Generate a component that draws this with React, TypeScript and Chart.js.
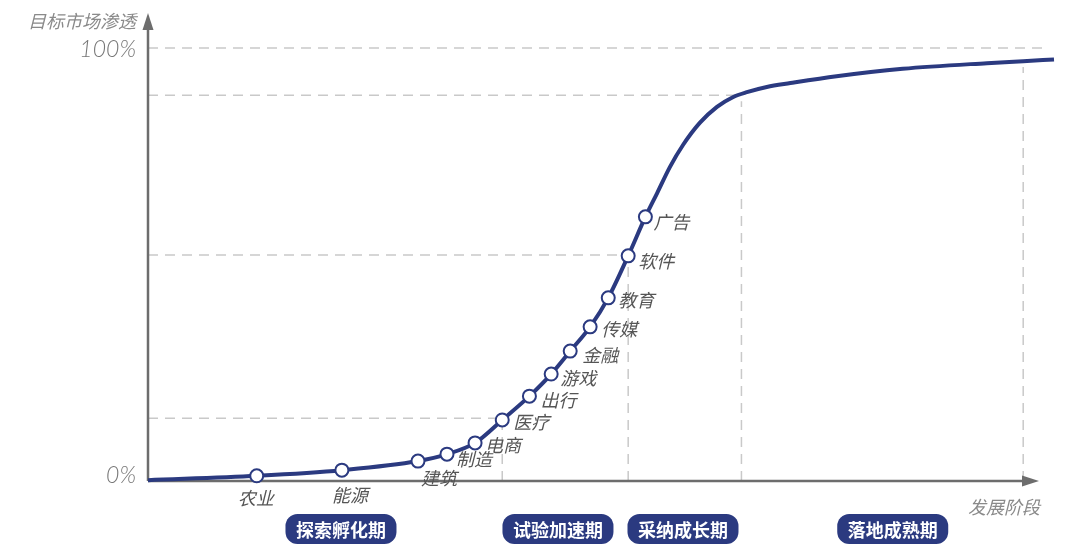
import React, { useEffect, useRef } from 'react';
import { Chart, registerables } from 'chart.js';

Chart.register(...registerables);

// industries sitting on the adoption curve
const industries = ['农业', '能源', '建筑', '制造', '电商', '医疗', '出行', '游戏', '金融', '传媒', '教育', '软件', '广告'];
const industryStage = [12.0, 21.4, 29.8, 33.0, 36.1, 39.1, 42.1, 44.5, 46.6, 48.8, 50.8, 53.0, 54.9];
const industryShare = [1.2, 2.5, 4.6, 6.2, 8.8, 14.1, 19.6, 24.7, 30.0, 35.6, 42.3, 52.0, 61.0];

// rest of the S-curve (no marker)
const curveStage = [0, 56.2, 57.6, 59.05, 60.9, 62.8, 64.6, 66.1, 68.3, 70.9, 76.0, 83.3, 92.6, 96.6, 100];
const curveShare = [0.2, 66.5, 72.5, 77.6, 82.7, 86.4, 88.7, 89.8, 91.0, 91.9, 93.5, 95.2, 96.5, 96.95, 97.35];

// dashed guides: [stage, share]
const guideStage = [39.1, 53.0, 65.5, 96.6];
const guideShare = [14.5, 52.2, 89.1, 97.0];
const topLineEnd = 99.2;

const yTicks = [0, 100];
const yTitle = '目标市场渗透';
const xTitle = '发展阶段';

const phases = ['探索孵化期', '试验加速期', '采纳成长期', '落地成熟期'];
const phaseCenter = [21.3, 45.25, 59.05, 82.2];

// label offsets in px (dx, dy, align)
const labelPlace: [number, number, CanvasTextAlign][] = [
  [-1, 22, 'center'],
  [8, 25, 'center'],
  [3, 17, 'left'],
  [9, 5, 'left'],
  [10, 2, 'left'],
  [11, 2, 'left'],
  [11, 4, 'left'],
  [9, 4, 'left'],
  [12, 4, 'left'],
  [11, 2, 'left'],
  [10, 2, 'left'],
  [10, 5, 'left'],
  [8, 5, 'left'],
];

const NAVY = '#2b3a80';
const AXIS = '#6d6d6d';
const CJK = "'Noto Sans CJK SC', 'Noto Sans', sans-serif";

const decor = {
  id: 'decor',
  beforeDatasetsDraw(chart: any) {
    const { ctx, scales } = chart;
    const x = scales.x;
    const y = scales.y;
    const x0 = x.getPixelForValue(0);
    const y0 = y.getPixelForValue(0);
    ctx.save();
    ctx.strokeStyle = '#c9c9c9';
    ctx.lineWidth = 1.5;
    ctx.setLineDash([10, 7]);
    guideStage.forEach((s, i) => {
      const px = x.getPixelForValue(s);
      const py = y.getPixelForValue(guideShare[i]);
      if (i < 3) {
        ctx.beginPath();
        ctx.moveTo(x0, py);
        ctx.lineTo(px, py);
        ctx.stroke();
      }
      ctx.beginPath();
      ctx.moveTo(px, y0);
      ctx.lineTo(px, py + 6);
      ctx.stroke();
    });
    const p100 = y.getPixelForValue(100);
    ctx.beginPath();
    ctx.moveTo(x0, p100);
    ctx.lineTo(x.getPixelForValue(topLineEnd), p100);
    ctx.stroke();
    ctx.setLineDash([]);

    // axes with arrows
    const right = x.getPixelForValue(100);
    const tipX = right - 15;
    const tipY = p100 - 35;
    ctx.strokeStyle = AXIS;
    ctx.fillStyle = AXIS;
    ctx.lineWidth = 2.5;
    ctx.beginPath();
    ctx.moveTo(x0, y0);
    ctx.lineTo(x0, tipY + 14);
    ctx.moveTo(x0, y0);
    ctx.lineTo(tipX - 14, y0);
    ctx.stroke();
    ctx.beginPath();
    ctx.moveTo(x0, tipY);
    ctx.lineTo(x0 - 5.5, tipY + 17);
    ctx.lineTo(x0 + 5.5, tipY + 17);
    ctx.closePath();
    ctx.fill();
    ctx.beginPath();
    ctx.moveTo(tipX, y0);
    ctx.lineTo(tipX - 17, y0 - 5.5);
    ctx.lineTo(tipX - 17, y0 + 5.5);
    ctx.closePath();
    ctx.fill();
    ctx.restore();
  },
  afterDatasetsDraw(chart: any) {
    const { ctx, scales } = chart;
    const x = scales.x;
    const y = scales.y;
    const x0 = x.getPixelForValue(0);
    const y0 = y.getPixelForValue(0);
    ctx.save();

    // industry labels
    ctx.font = `italic 18px ${CJK}`;
    ctx.fillStyle = '#555555';
    ctx.textBaseline = 'middle';
    industries.forEach((name, i) => {
      const [dx, dy, align] = labelPlace[i];
      ctx.textAlign = align;
      ctx.fillText(name, x.getPixelForValue(industryStage[i]) + dx, y.getPixelForValue(industryShare[i]) + dy);
    });

    // y ticks and titles
    ctx.fillStyle = '#777777';
    ctx.textAlign = 'right';
    ctx.font = "italic 300 23px Lato, 'Noto Sans', sans-serif";
    yTicks.forEach((t) => {
      const py = y.getPixelForValue(t) + (t === 0 ? -5 : 2);
      ctx.fillText(`${t}%`, x0 - 12, py);
    });
    ctx.font = `italic 18px ${CJK}`;
    ctx.fillStyle = '#8a8a8a';
    ctx.fillText(yTitle, x0 - 12, y.getPixelForValue(100) - 27);
    ctx.fillText(xTitle, x.getPixelForValue(100) - 14, y0 + 26);

    // phase badges
    ctx.font = `bold 18px ${CJK}`;
    ctx.textAlign = 'center';
    phases.forEach((p, i) => {
      const cx = x.getPixelForValue(phaseCenter[i]);
      const cy = y0 + 48;
      ctx.fillStyle = NAVY;
      ctx.beginPath();
      ctx.roundRect(cx - 55.5, cy - 15, 111, 30, 12);
      ctx.fill();
      ctx.fillStyle = '#ffffff';
      ctx.fillText(p, cx, cy + 1);
    });
    ctx.restore();
  },
};

const App: React.FC = () => {
  const canvasRef = useRef<HTMLCanvasElement>(null);

  useEffect(() => {
    if (!canvasRef.current) return;
    const pts = [
      ...industryStage.map((s, i) => ({ x: s, y: industryShare[i] })),
      ...curveStage.map((s, i) => ({ x: s, y: curveShare[i] })),
    ].sort((a, b) => a.x - b.x);
    const marks = industryStage.map((s, i) => ({ x: s, y: industryShare[i] }));

    const chart = new Chart(canvasRef.current, {
      type: 'line',
      data: {
        datasets: [
          {
            data: marks,
            showLine: false,
            pointRadius: 6.5,
            pointBorderWidth: 2,
            pointBackgroundColor: '#ffffff',
            pointBorderColor: NAVY,
            order: 0,
            clip: false,
          },
          {
            data: pts,
            borderColor: NAVY,
            borderWidth: 4,
            pointRadius: 0,
            cubicInterpolationMode: 'monotone',
            fill: false,
            order: 1,
            clip: false,
          },
        ],
      },
      options: {
        animation: false,
        responsive: true,
        maintainAspectRatio: false,
        layout: { padding: { left: 148, right: 26, top: 48, bottom: 77 } },
        plugins: { legend: { display: false }, tooltip: { enabled: false } },
        scales: {
          x: { type: 'linear', min: 0, max: 100, display: false },
          y: { type: 'linear', min: 0, max: 100, display: false },
        },
      },
      plugins: [decor],
    });

    return () => {
      chart.destroy();
    };
  }, []);

  return (
    <div style={{ position: 'fixed', left: 0, top: 0, width: 1080, height: 558, background: '#ffffff' }}>
      <canvas ref={canvasRef} />
    </div>
  );
};

export default App;
